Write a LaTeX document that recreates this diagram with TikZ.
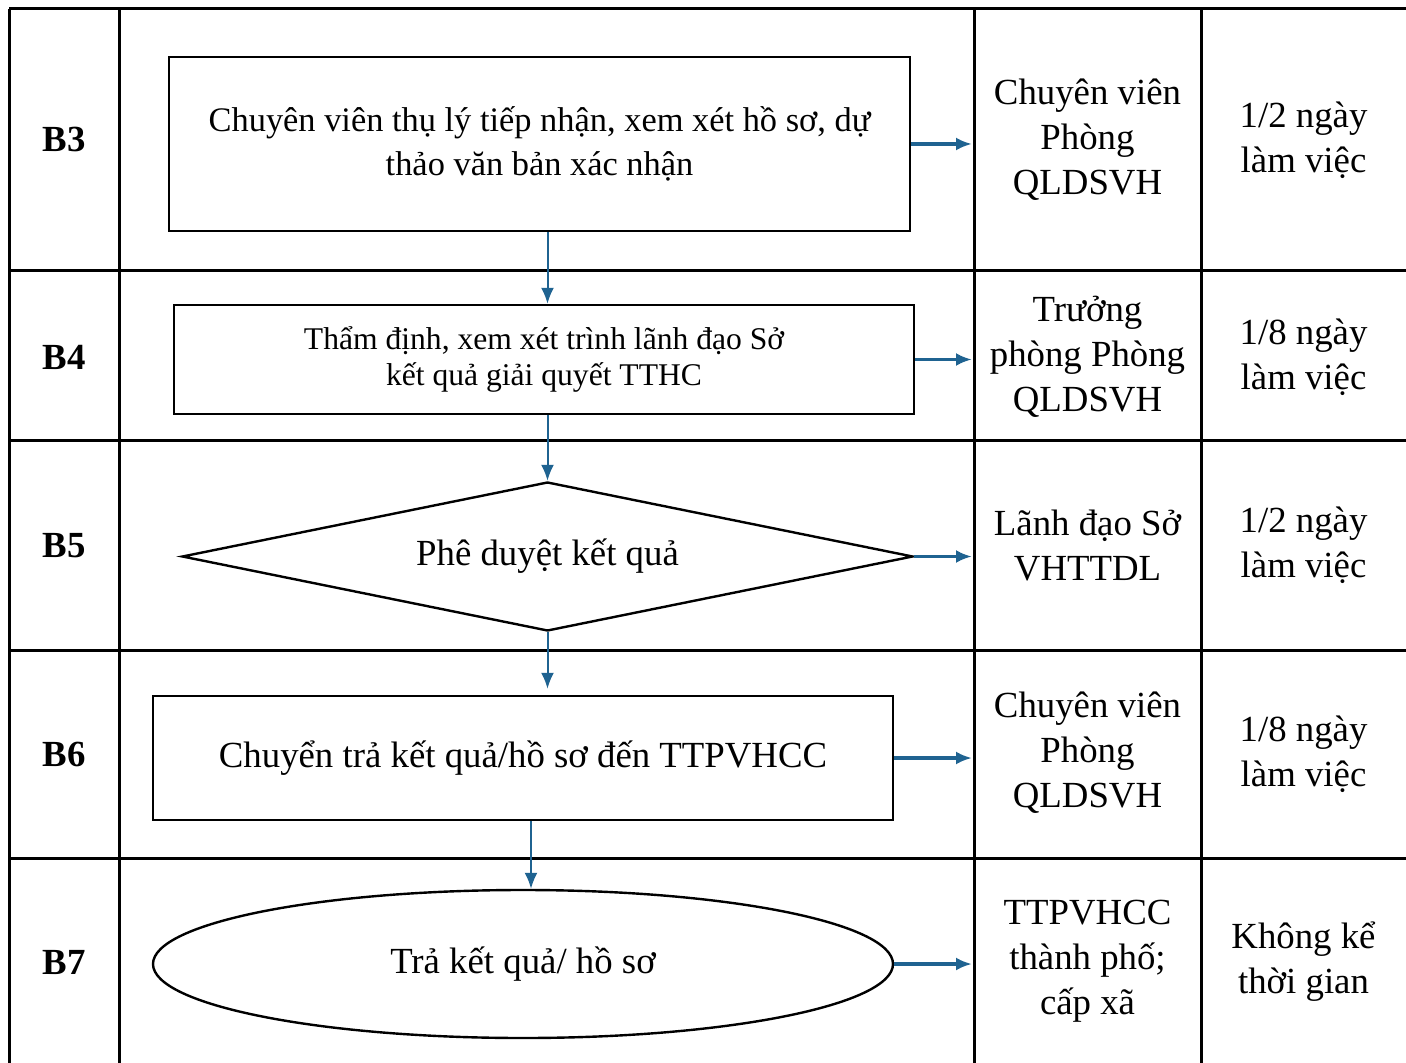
\documentclass[tikz,border=0pt]{standalone}
\usepackage{fontspec}
\setmainfont{Liberation Serif}
\usetikzlibrary{arrows.meta,shapes.geometric}
\definecolor{flowblue}{HTML}{1F6391}

\begin{document}
\begin{tikzpicture}[x=0.5pt,y=-0.5pt,>={Latex[length=8pt,width=6.5pt]},
        grid/.style={line width=1.5pt},
        stepbox/.style={draw,line width=1.2pt,inner sep=0pt},
        txt/.style={font=\fontsize{18.4}{22.5}\selectfont,align=center},
        steplbl/.style={font=\fontsize{18.4}{22.5}\selectfont\bfseries},
        down/.style={->,draw=flowblue,line width=1pt},
        side/.style={->,draw=flowblue,line width=1.6pt}]
        \useasboundingbox (0,0) rectangle (1406,1063);

        % table
        \draw[grid] (9,9) -- (1406,9);
        \draw[grid] (9,271) -- (1406,271);
        \draw[grid] (9,441) -- (1406,441);
        \draw[grid] (9,650) -- (1406,650);
        \draw[grid] (9,858) -- (1406,858);
        \draw[grid] (9,9) -- (9,1063);
        \draw[grid] (119,9) -- (119,1063);
        \draw[grid] (974,9) -- (974,1063);
        \draw[grid] (1201,9) -- (1201,1063);

        \path
        % step labels
        +(64,140) node[steplbl] (b3) {B3}
        +(64,357) node[steplbl] (b4) {B4}
        +(64,546) node[steplbl] (b5) {B5}
        +(64,754) node[steplbl] (b6) {B6}
        +(64,962) node[steplbl] (b7) {B7}
        % flow
        +(539.5,144) node[stepbox,minimum width=370.5pt,minimum height=87pt,align=center,
            font=\fontsize{17.2}{22}\selectfont] (s3)
            {Chuyên viên thụ lý tiếp nhận, xem xét hồ sơ, dự\\thảo văn bản xác nhận}
        +(544,359.5) node[stepbox,minimum width=370pt,minimum height=54.5pt,align=center,
            font=\fontsize{15.8}{18}\selectfont] (s4)
            {Thẩm định, xem xét trình lãnh đạo Sở\\kết quả giải quyết TTHC}
        +(547.5,556.5) node[stepbox,txt,diamond,shape aspect=4.9,minimum width=365.5pt,minimum height=74.5pt] (s5)
            {Phê duyệt kết quả}
        +(523,758) node[stepbox,txt,minimum width=370pt,minimum height=62pt] (s6)
            {Chuyển trả kết quả/hồ sơ đến TTPVHCC}
        +(523,964) node[stepbox,txt,ellipse,minimum width=370pt,minimum height=74pt] (s7)
            {Trả kết quả/ hồ sơ}
        % who
        +(1087.5,140) node[txt] (who3) {Chuyên viên\\Phòng\\QLDSVH}
        +(1087.5,357) node[txt] (who4) {Trưởng\\phòng Phòng\\QLDSVH}
        +(1087.5,545.5) node[txt] (who5) {Lãnh đạo Sở\\VHTTDL}
        +(1087.5,753) node[txt] (who6) {Chuyên viên\\Phòng\\QLDSVH}
        +(1087.5,961) node[txt] (who7) {TTPVHCC\\thành phố;\\cấp xã}
        % time
        +(1303.5,140) node[txt] (time3) {1/2 ngày\\làm việc}
        +(1303.5,357) node[txt] (time4) {1/8 ngày\\làm việc}
        +(1303.5,545.5) node[txt] (time5) {1/2 ngày\\làm việc}
        +(1303.5,754) node[txt] (time6) {1/8 ngày\\làm việc}
        +(1303.5,962) node[txt] (time7) {Không kể\\thời gian}
        +(972,0) coordinate (edge);

        \draw[down] (s3.south -| s5) -- (s4.north -| s5);
        \draw[down] (s4.south -| s5) -- (s5.north);
        \draw[down] (s5.south) -- ([yshift=3pt]s6.north -| s5);
        \draw[down] ([xshift=4pt]s6.south) -- ([xshift=4pt]s7.north);

        \draw[side] (s3.east) -- (s3.east -| edge);
        \draw[side] (s4.east) -- (s4.east -| edge);
        \draw[side] (s5.east) -- (s5.east -| edge);
        \draw[side] (s6.east) -- (s6.east -| edge);
        \draw[side] (s7.east) -- (s7.east -| edge);
    \end{tikzpicture}
\end{document}
